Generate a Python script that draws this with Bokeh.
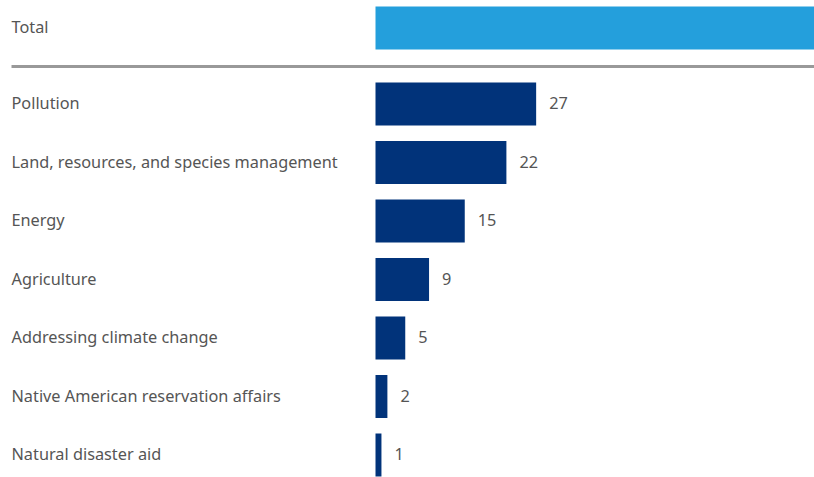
from bokeh.plotting import figure
from bokeh.models import Range1d, ColumnDataSource
from bokeh.core.properties import value
from bokeh.embed import file_html
from bokeh.resources import INLINE

categories = ["Pollution", "Land, resources, and species management", "Energy",
              "Agriculture", "Addressing climate change",
              "Native American reservation affairs", "Natural disaster aid"]
values = [27, 22, 15, 9, 5, 2, 1]
total_label = "Total"
total_value = sum(values)

W, H = 814, 477
px_per_unit = 5.95
bar_left_px = 375
label_left_px = 11
x0 = -bar_left_px / px_per_unit
x1 = (W - bar_left_px) / px_per_unit

p = figure(width=W, height=H, output_backend="svg", toolbar_location=None,
           x_range=Range1d(x0, x1), y_range=Range1d(H, 0),
           min_border=0, outline_line_color=None)
p.axis.visible = False
p.grid.visible = False
p.background_fill_color = "white"
p.border_fill_color = "white"

bar_h = 43
total_y = 27.5
first_y = 103.5
pitch = 58.5
ys = [first_y + i * pitch for i in range(len(categories))]

FONT = "Noto Sans"
FS = "16.3px"
TXT = "#555555"
lx = x0 + label_left_px / px_per_unit
dy = -1

# total
p.hbar(y=[total_y], left=[0], right=[total_value], height=bar_h,
       color="#249fdc", line_color=None)
p.text(x=[lx], y=[total_y + dy], text=[total_label],
       text_font=value(FONT), text_font_size=FS, text_color=TXT,
       text_baseline="middle", text_align="left")

# divider
p.segment(x0=[lx], x1=[x1], y0=[66], y1=[66],
          line_color="#999999", line_width=3)

src = ColumnDataSource(dict(y=ys, ty=[y + dy for y in ys], v=values, cat=categories,
                            lx=[lx] * len(values),
                            vx=[v + 13 / px_per_unit for v in values],
                            vt=[str(v) for v in values]))
p.hbar(y="y", left=0, right="v", height=bar_h, source=src,
       color="#01337a", line_color=None)
p.text(x="lx", y="ty", text="cat", source=src, text_font=value(FONT),
       text_font_size=FS, text_color=TXT, text_baseline="middle",
       text_align="left")
p.text(x="vx", y="ty", text="vt", source=src, text_font=value(FONT),
       text_font_size=FS, text_color=TXT, text_baseline="middle",
       text_align="left")

open("out.html", "w").write(file_html(p, INLINE))
